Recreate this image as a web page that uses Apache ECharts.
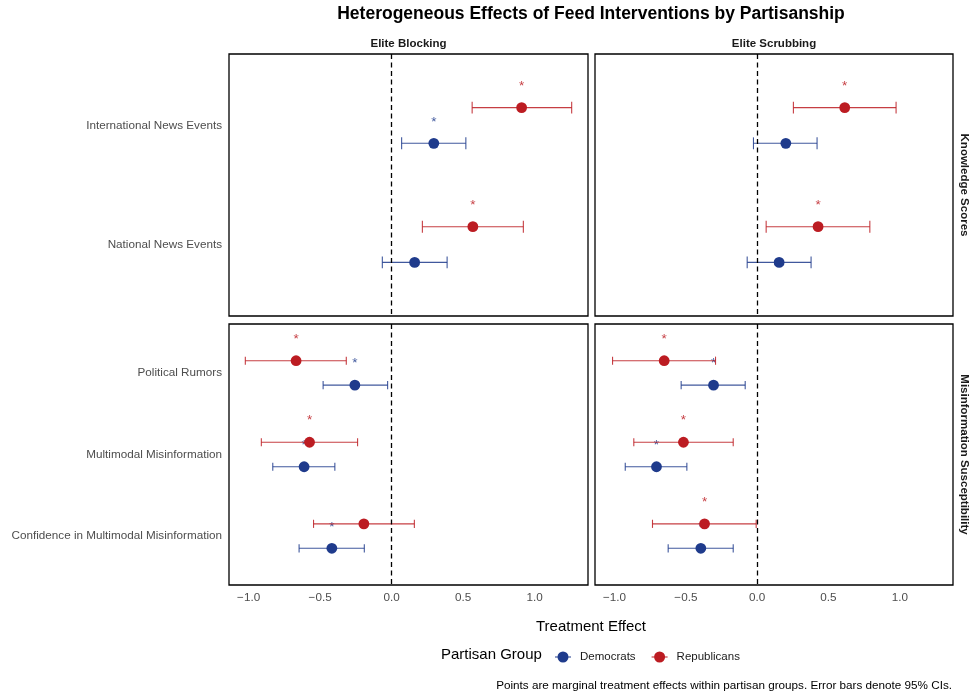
<!DOCTYPE html>
<html>
<head>
<meta charset="utf-8">
<script src="https://cdn.jsdelivr.net/npm/echarts@6/dist/echarts.min.js"></script>
<style>
  html, body { margin: 0; padding: 0; background: #fff; }
  #chart { width: 975px; height: 697px; }
</style>
</head>
<body>
<div id="chart"></div>
<script>
// Outcome items per facet row
const knowledgeItems = ['International News Events', 'National News Events'];
const misinfoItems = ['Political Rumors', 'Multimodal Misinformation', 'Confidence in Multimodal Misinformation'];

// [estimate, lower 95% CI, upper 95% CI] per item, in the item order above
const blockKnowDem = [[0.295, 0.070, 0.519], [0.161, -0.065, 0.388]];
const blockKnowRep = [[0.909, 0.563, 1.259], [0.568, 0.215, 0.921]];
const scrubKnowDem = [[0.201, -0.026, 0.420], [0.154, -0.070, 0.378]];
const scrubKnowRep = [[0.614, 0.254, 0.974], [0.427, 0.063, 0.790]];

const blockMisDem = [[-0.257, -0.479, -0.028], [-0.612, -0.831, -0.397], [-0.418, -0.647, -0.191]];
const blockMisRep = [[-0.668, -1.023, -0.317], [-0.574, -0.911, -0.238], [-0.194, -0.546, 0.159]];
const scrubMisDem = [[-0.306, -0.533, -0.084], [-0.706, -0.925, -0.493], [-0.395, -0.624, -0.168]];
const scrubMisRep = [[-0.652, -1.014, -0.292], [-0.517, -0.865, -0.168], [-0.369, -0.734, -0.007]];

const facetCols = ['Elite Blocking', 'Elite Scrubbing'];
const facetRows = ['Knowledge Scores', 'Misinformation Susceptibility'];
const groups = ['Democrats', 'Republicans'];
const xTickStep = 0.5;

const COLORS = { Democrats: '#1f3b8c', Republicans: '#bc1c22' };
const FONT = '"Liberation Sans", Arial, Helvetica, sans-serif';
const MINUS = '\u2212';

// shared x range: data extent with 5% padding on both sides
const allVals = [].concat(blockKnowDem, blockKnowRep, scrubKnowDem, scrubKnowRep,
  blockMisDem, blockMisRep, scrubMisDem, scrubMisRep).flat();
const dMin = Math.min(...allVals), dMax = Math.max(...allVals);
const pad = (dMax - dMin) * 0.05;
const xMin = dMin - pad, xMax = dMax + pad;

// panel boxes (left, top, width, height)
const panels = [
  { col: 0, row: 0, left: 229, top: 54, width: 359, height: 262, items: knowledgeItems, dem: blockKnowDem, rep: blockKnowRep },
  { col: 1, row: 0, left: 595, top: 54, width: 358, height: 262, items: knowledgeItems, dem: scrubKnowDem, rep: scrubKnowRep },
  { col: 0, row: 1, left: 229, top: 324, width: 359, height: 261, items: misinfoItems, dem: blockMisDem, rep: blockMisRep },
  { col: 1, row: 1, left: 595, top: 324, width: 358, height: 261, items: misinfoItems, dem: scrubMisDem, rep: scrubMisRep }
];
const panelsCenterX = (229 + 953) / 2;

const grid = [], xAxis = [], yAxis = [], series = [];

function fmtTick(v) {
  const k = v / xTickStep;
  if (Math.abs(k - Math.round(k)) > 1e-6) return '';
  const s = Math.abs(v).toFixed(1);
  return v < -1e-9 ? MINUS + s : s;
}

function makeRender(group, dodge) {
  const color = COLORS[group];
  return function (params, api) {
    const est = api.value(0), lo = api.value(1), hi = api.value(2), pos = api.value(3) + dodge;
    const pE = api.coord([est, pos]);
    const pL = api.coord([lo, pos]);
    const pH = api.coord([hi, pos]);
    const capHalf = Math.abs(api.coord([est, pos + 0.05])[1] - pE[1]);
    const barStyle = { stroke: color, lineWidth: 1.1, opacity: 0.85 };
    const children = [
      { type: 'line', shape: { x1: pL[0], y1: pL[1], x2: pH[0], y2: pH[1] }, style: barStyle },
      { type: 'line', shape: { x1: pL[0], y1: pL[1] - capHalf, x2: pL[0], y2: pL[1] + capHalf }, style: barStyle },
      { type: 'line', shape: { x1: pH[0], y1: pH[1] - capHalf, x2: pH[0], y2: pH[1] + capHalf }, style: barStyle },
      { type: 'circle', shape: { cx: pE[0], cy: pE[1], r: 5.4 }, style: { fill: color } }
    ];
    // star when the 95% CI excludes zero
    if (lo > 0 || hi < 0) {
      children.push({
        type: 'text',
        style: { text: '*', x: pE[0], y: pE[1] - 21.5, fill: color, opacity: 0.85,
                 font: '13.5px ' + FONT, align: 'center', verticalAlign: 'middle' }
      });
    }
    return { type: 'group', children: children };
  };
}

panels.forEach(function (p, i) {
  grid.push({ left: p.left, top: p.top, width: p.width, height: p.height,
              show: true, borderColor: '#000', borderWidth: 1.3, backgroundColor: '#fff' });
  xAxis.push({
    type: 'value', gridIndex: i, min: xMin, max: xMax,
    minInterval: xTickStep, maxInterval: xTickStep,
    axisLine: { show: false }, axisTick: { show: false }, splitLine: { show: false },
    axisLabel: { show: p.row === 1, showMinLabel: false, showMaxLabel: false,
                 color: '#4d4d4d', fontSize: 11.7, fontFamily: FONT, margin: 7, formatter: fmtTick }
  });
  const items = p.items;
  yAxis.push({
    type: 'value', gridIndex: i, inverse: true, min: 0.4, max: items.length + 0.6, interval: 0.2,
    axisLine: { show: false }, axisTick: { show: false }, splitLine: { show: false },
    axisLabel: {
      show: p.col === 0, color: '#4d4d4d', fontSize: 11.7, fontFamily: FONT, margin: 7,
      showMinLabel: false, showMaxLabel: false,
      formatter: function (v) {
        const k = Math.round(v);
        if (Math.abs(v - k) > 1e-6 || k < 1 || k > items.length) return '';
        return items[k - 1];
      }
    }
  });
  [['Democrats', p.dem, 0.15], ['Republicans', p.rep, -0.15]].forEach(function (g, gi) {
    const s = {
      type: 'custom', name: g[0], xAxisIndex: i, yAxisIndex: i,
      color: COLORS[g[0]],
      encode: { x: [0, 1, 2], y: 3 },
      data: g[1].map(function (r, k) { return [r[0], r[1], r[2], k + 1]; }),
      renderItem: makeRender(g[0], g[2]),
      silent: true, z: 3
    };
    if (gi === 1) {
      s.markLine = {
        silent: true, symbol: 'none', z: 4,
        label: { show: false },
        lineStyle: { color: '#000', width: 1.3, type: [5, 3.5], opacity: 1 },
        data: [{ xAxis: 0 }]
      };
    }
    series.push(s);
  });
});

const graphic = [
  { type: 'text', x: panelsCenterX, y: 14, style: { text: 'Heterogeneous Effects of Feed Interventions by Partisanship',
      font: 'bold 17.5px ' + FONT, fill: '#000', align: 'center', verticalAlign: 'middle' } },
  { type: 'text', x: 229 + 359 / 2, y: 44, style: { text: facetCols[0], font: 'bold 11.5px ' + FONT, fill: '#1a1a1a', align: 'center', verticalAlign: 'middle' } },
  { type: 'text', x: 595 + 358 / 2, y: 44, style: { text: facetCols[1], font: 'bold 11.5px ' + FONT, fill: '#1a1a1a', align: 'center', verticalAlign: 'middle' } },
  { type: 'text', x: 964, y: 54 + 262 / 2, rotation: -Math.PI / 2, style: { text: facetRows[0], font: 'bold 11.5px ' + FONT, fill: '#1a1a1a', align: 'center', verticalAlign: 'middle' } },
  { type: 'text', x: 964, y: 324 + 261 / 2, rotation: -Math.PI / 2, style: { text: facetRows[1], font: 'bold 11.5px ' + FONT, fill: '#1a1a1a', align: 'center', verticalAlign: 'middle' } },
  { type: 'text', x: panelsCenterX, y: 627, style: { text: 'Treatment Effect', font: '15px ' + FONT, fill: '#000', align: 'center', verticalAlign: 'middle' } },
  { type: 'text', x: 441, y: 655, style: { text: 'Partisan Group', font: '15px ' + FONT, fill: '#000', align: 'left', verticalAlign: 'middle' } },
  { type: 'text', x: 952, y: 686, style: { text: 'Points are marginal treatment effects within partisan groups. Error bars denote 95% CIs.',
      font: '11.7px ' + FONT, fill: '#000', align: 'right', verticalAlign: 'middle' } }
];

const chart = echarts.init(document.getElementById('chart'), null, { renderer: 'canvas' });
chart.setOption({
  animation: false,
  backgroundColor: '#fff',
  grid: grid, xAxis: xAxis, yAxis: yAxis, series: series,
  legend: {
    data: groups, left: 550, top: 646, itemWidth: 16, itemHeight: 11, itemGap: 16,
    icon: 'path://M0,4.9L16,4.9L16,6.1L0,6.1Z M13.5,5.5A5.5,5.5,0,1,1,2.5,5.5A5.5,5.5,0,1,1,13.5,5.5Z',
    textStyle: { fontSize: 11.5, fontFamily: FONT, color: '#1a1a1a', padding: [0, 0, 0, 4] },
    selectedMode: false
  },
  graphic: graphic
});
</script>
</body>
</html>
